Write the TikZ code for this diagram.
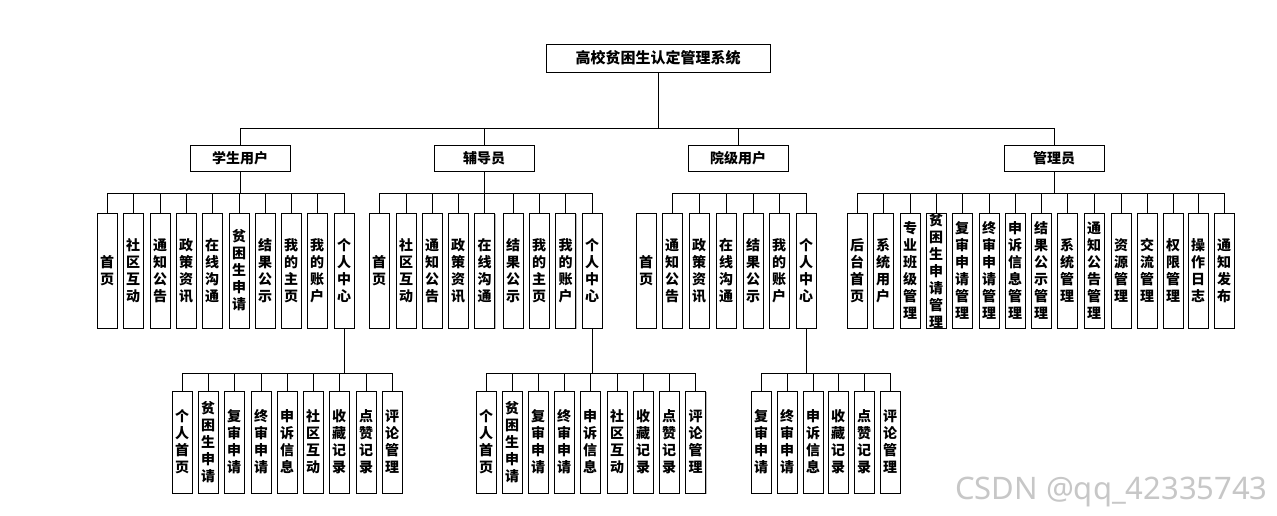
\documentclass[tikz,border=0pt]{standalone}
\usepackage{fontspec}
\newfontfamily\cjk{Noto Sans CJK SC}
\newfontfamily\wmfont{Noto Sans}
\usetikzlibrary{shadows}
\begin{document}
\begin{tikzpicture}[x=1pt,y=-1pt,
  box/.style={draw=black, line width=0.8pt, fill=white, inner sep=0pt, align=center,
    font=\cjk\bfseries\fontsize{14}{17}\selectfont,
    drop shadow={shadow xshift=1.4pt, shadow yshift=-1.4pt, fill=black!50, opacity=0.55}},
  lone/.style={box, minimum width=224, minimum height=28, font=\cjk\bfseries\fontsize{15}{17}\selectfont},
  ltwo/.style={box, minimum width=100, minimum height=26},
  lthree/.style={box, minimum width=20, minimum height=115},
  lfour/.style={box, minimum width=20, minimum height=102},
  conn/.style={draw=black, line width=0.8pt}]
\fill[white] (0,0) rectangle (1277,516);
\useasboundingbox (0,0) rectangle (1277,516);
\coordinate (b1) at (0,128);
\coordinate (b2) at (0,193);
\coordinate (b3) at (0,373);

\node[lone] (root) at (658,58) {高校贫困生认定管理系统};
\node[ltwo] (stu) at (240,158) {学生用户};
\node[ltwo] (fdy) at (484,158) {辅导员};
\node[ltwo] (yj) at (738,158) {院级用户};
\node[ltwo] (gly) at (1054,158) {管理员};

% student level 3
\foreach \x/\t [count=\i] in {107/首\\页, 133/社\\区\\互\\动, 160/通\\知\\公\\告, 186/政\\策\\资\\讯, 212/在\\线\\沟\\通, 239/贫\\困\\生\\申\\请, 265/结\\果\\公\\示, 291/我\\的\\主\\页, 317/我\\的\\账\\户, 344/个\\人\\中\\心}
  \node[lthree] (s\i) at (\x,270.5) {\t};
% counselor level 3
\foreach \x/\t [count=\i] in {379/首\\页, 406/社\\区\\互\\动, 432/通\\知\\公\\告, 458/政\\策\\资\\讯, 484.5/在\\线\\沟\\通, 513/结\\果\\公\\示, 539/我\\的\\主\\页, 565.5/我\\的\\账\\户, 592/个\\人\\中\\心}
  \node[lthree] (f\i) at (\x,270.5) {\t};
% academy level 3
\foreach \x/\t [count=\i] in {646/首\\页, 672/通\\知\\公\\告, 699/政\\策\\资\\讯, 726/在\\线\\沟\\通, 753/结\\果\\公\\示, 779/我\\的\\账\\户, 806/个\\人\\中\\心}
  \node[lthree] (y\i) at (\x,270.5) {\t};
% admin level 3
\foreach \x/\t [count=\i] in {857/后\\台\\首\\页, 883/系\\统\\用\\户, 910/专\\业\\班\\级\\管\\理, 936/贫\\困\\生\\申\\请\\管\\理, 962/复\\审\\申\\请\\管\\理, 989/终\\审\\申\\请\\管\\理, 1015/申\\诉\\信\\息\\管\\理, 1041/结\\果\\公\\示\\管\\理, 1067/系\\统\\管\\理, 1094/通\\知\\公\\告\\管\\理, 1121/资\\源\\管\\理, 1147/交\\流\\管\\理, 1173/权\\限\\管\\理, 1198/操\\作\\日\\志, 1224/通\\知\\发\\布}
  \node[lthree] (g\i) at (\x,270.5) {\t};

% bottom rows
\foreach \x/\t [count=\i] in {182/个\\人\\首\\页, 208/贫\\困\\生\\申\\请, 234/复\\审\\申\\请, 261/终\\审\\申\\请, 287/申\\诉\\信\\息, 313/社\\区\\互\\动, 339/收\\藏\\记\\录, 366/点\\赞\\记\\录, 392/评\\论\\管\\理}
  \node[lfour] (sp\i) at (\x,442) {\t};
\foreach \x/\t [count=\i] in {486/个\\人\\首\\页, 512/贫\\困\\生\\申\\请, 538/复\\审\\申\\请, 564/终\\审\\申\\请, 590/申\\诉\\信\\息, 617/社\\区\\互\\动, 643/收\\藏\\记\\录, 669/点\\赞\\记\\录, 695.5/评\\论\\管\\理}
  \node[lfour] (fp\i) at (\x,442) {\t};
\foreach \x/\t [count=\i] in {761/复\\审\\申\\请, 787/终\\审\\申\\请, 813/申\\诉\\信\\息, 838/收\\藏\\记\\录, 864/点\\赞\\记\\录, 890/评\\论\\管\\理}
  \node[lfour] (yp\i) at (\x,442) {\t};

% connectors root -> level 2
\foreach \n in {stu,fdy,yj,gly}
  \draw[conn] (root.south) |- (\n.north |- b1) -- (\n.north);
% level 2 -> level 3
\foreach \i in {1,...,10}
  \draw[conn] (stu.south) |- (s\i.north |- b2) -- (s\i.north);
\foreach \i in {1,...,9}
  \draw[conn] (fdy.south) |- (f\i.north |- b2) -- (f\i.north);
\foreach \i in {2,...,7}
  \draw[conn] (y2.north |- b2) -| (y\i.north);
\foreach \i in {1,...,15}
  \draw[conn] (gly.south) |- (g\i.north |- b2) -- (g\i.north);
% personal centre -> bottom rows
\foreach \i in {1,...,9}
  \draw[conn] (s10.south) |- (sp\i.north |- b3) -- (sp\i.north);
\foreach \i in {1,...,9}
  \draw[conn] (f9.south) |- (fp\i.north |- b3) -- (fp\i.north);
\foreach \i in {1,...,6}
  \draw[conn] (y7.south) |- (yp\i.north |- b3) -- (yp\i.north);

\node[anchor=west, inner sep=0pt, font=\wmfont\fontsize{31}{34}\selectfont, text=black!22] (wm) at (955,492) {CSDN @qq\_42335743};
\end{tikzpicture}
\end{document}
